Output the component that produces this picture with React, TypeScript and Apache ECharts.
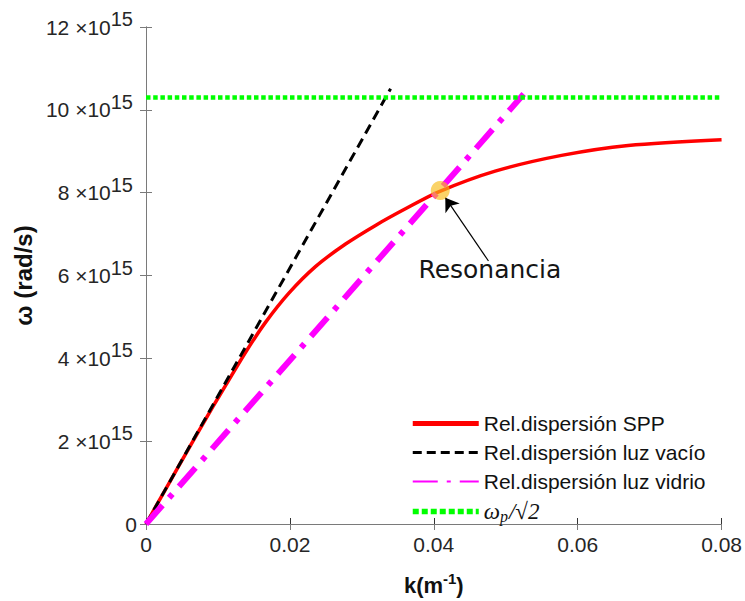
import React, { useEffect, useRef } from 'react';
import * as echarts from 'echarts';

// wave number k (m^-1) and angular frequency ω (in units of 1e15 rad/s)
const kSPP = [0, 0.00256, 0.00649, 0.00926, 0.01111, 0.01389, 0.01666, 0.01989, 0.02359, 0.02774, 0.0319, 0.03606, 0.04067, 0.04853, 0.05776, 0.06702, 0.08];
const wSPP = [0, 0.79, 1.99, 2.82, 3.36, 4.16, 4.88, 5.58, 6.22, 6.76, 7.21, 7.61, 8.02, 8.52, 8.9, 9.14, 9.28];
const kVacuum = [0, 0.034];
const wVacuum = [0, 10.51];
const kGlass = [0, 0.0525];
const wGlass = [0, 10.38];
const kPlasma = [0, 0.08];
const wPlasma = [10.3, 10.3];
const resonancePoint = [0.0409, 8.05];
const arrowTail = [0.0476, 6.35];
const arrowHead = [0.0416, 7.88];
const resonanceLabelAt = [0.0478, 6.14];
const resonanceText = 'Resonancia';

const xMin = 0, xMax = 0.08, xStep = 0.02;
const yMin = 0, yMax = 12, yStep = 2;
const yExponent = '15';

const nameSPP = 'Rel.dispersión SPP';
const nameVacuum = 'Rel.dispersión luz vacío';
const nameGlass = 'Rel.dispersión luz vidrio';
const namePlasma = 'ωp/√2';

const zip = (a: number[], b: number[]) => a.map((v, i) => [v, b[i]]);

const AXIS_GREY = '#7a7a7a';
const TXT = '#262626';
const SANS = '"Liberation Sans", Arial, sans-serif';

export default function App() {
  const ref = useRef<HTMLDivElement>(null);
  useEffect(() => {
    if (!ref.current) return;
    const chart = echarts.init(ref.current, undefined, { renderer: 'svg' });
    const secondaryX = {
      type: 'value', position: 'top', min: xMin, max: xMax, interval: xStep,
      axisLine: { show: true, lineStyle: { color: AXIS_GREY, width: 1 } },
      axisTick: { show: true, inside: true, length: 6, lineStyle: { color: AXIS_GREY } },
      axisLabel: { show: false }, splitLine: { show: false },
    };
    const secondaryY = {
      type: 'value', position: 'right', min: yMin, max: yMax, interval: yStep,
      axisLine: { show: true, lineStyle: { color: AXIS_GREY, width: 1 } },
      axisTick: { show: true, inside: true, length: 6, lineStyle: { color: AXIS_GREY } },
      axisLabel: { show: false }, splitLine: { show: false },
    };
    const option: any = {
      animation: false,
      backgroundColor: '#ffffff',
      grid: { left: 146, right: 21, top: 27, bottom: 72, containLabel: false },
      xAxis: [
        {
          type: 'value', min: xMin, max: xMax, interval: xStep,
          name: '{b|k(m}{s|-1}{b|)}',
          nameLocation: 'middle', nameGap: 47,
          nameTextStyle: {
            rich: {
              b: { fontFamily: SANS, fontSize: 22, fontWeight: 'bold', color: '#111' },
              s: { fontFamily: SANS, fontSize: 15, fontWeight: 'bold', color: '#111', padding: [0, 0, 13, 0] },
            },
          },
          axisLine: { show: true, lineStyle: { color: '#333', width: 1 } },
          axisTick: { show: true, inside: true, length: 6, lineStyle: { color: '#333' } },
          axisLabel: {
            margin: 10, fontFamily: SANS, fontSize: 21, color: TXT,
            formatter: (v: number) => (v === 0 ? '0' : v.toFixed(2)),
          },
          splitLine: { show: false },
        },
        secondaryX,
      ],
      yAxis: [
        {
          type: 'value', min: yMin, max: yMax, interval: yStep,
          name: 'ω (rad/s)', nameLocation: 'middle', nameGap: 106, nameRotate: 90,
          nameTextStyle: { fontFamily: SANS, fontSize: 24, fontWeight: 'bold', color: '#111' },
          axisLine: { show: true, lineStyle: { color: AXIS_GREY, width: 1 } },
          axisTick: { show: true, inside: true, length: 6, lineStyle: { color: AXIS_GREY } },
          axisLabel: {
            margin: 9, color: TXT,
            formatter: (v: number) => (v === 0 ? '{z|0}' : `{b|${v} ×10}{s|${yExponent}}`),
            rich: {
              z: { fontFamily: SANS, fontSize: 21, color: TXT },
              b: { fontFamily: SANS, fontSize: 21, color: TXT },
              s: { fontFamily: SANS, fontSize: 20, color: TXT, padding: [0, 4, 16, 0] },
            },
          },
          splitLine: { show: false },
        },
        secondaryY,
      ],
      legend: {
        orient: 'vertical', left: 410, top: 413, padding: 0,
        itemWidth: 66, itemHeight: 14, itemGap: 8,
        itemStyle: { opacity: 0, borderWidth: 0 },
        textStyle: {
          fontFamily: SANS, fontSize: 21, color: '#111', lineHeight: 20,
          rich: {
            w: { fontFamily: '"Liberation Serif", serif', fontStyle: 'italic', fontSize: 23, color: '#111' },
            p: { fontFamily: '"Liberation Serif", serif', fontStyle: 'italic', fontSize: 16, color: '#111', padding: [10, 1, 0, 0] },
            r: { fontFamily: '"Liberation Serif", serif', fontStyle: 'italic', fontSize: 23, color: '#111' },
          },
        },
        formatter: (name: string) => (name === namePlasma ? '{w|ω}{p|p}{r|/√2}' : name),
        data: [
          { name: nameSPP, lineStyle: { width: 5, type: 'solid' } },
          { name: nameVacuum, lineStyle: { width: 3, type: [9, 5] } },
          { name: nameGlass, lineStyle: { width: 2, type: [25, 9, 4, 9] } },
          { name: namePlasma, lineStyle: { width: 5.5, type: [6, 3] } },
        ],
      },
      series: [
        {
          name: nameSPP, type: 'line', data: zip(kSPP, wSPP), smooth: 0.3,
          symbol: 'none', lineStyle: { color: '#ff0000', width: 3.5 }, itemStyle: { color: '#ff0000' },
          z: 2,
        },
        {
          name: nameVacuum, type: 'line', data: zip(kVacuum, wVacuum),
          symbol: 'none', lineStyle: { color: '#000000', width: 3, type: [10, 6] }, itemStyle: { color: '#000000' },
          z: 3,
        },
        {
          name: nameGlass, type: 'line', data: zip(kGlass, wGlass),
          symbol: 'none', lineStyle: { color: '#ff00ff', width: 6, type: [25, 10, 5, 10] }, itemStyle: { color: '#ff00ff' },
          z: 4,
        },
        {
          name: namePlasma, type: 'line', data: zip(kPlasma, wPlasma),
          symbol: 'none', lineStyle: { color: '#00ff00', width: 4.5, type: [4.5, 2.7] }, itemStyle: { color: '#00ff00' },
          z: 5,
        },
        {
          name: 'resonance', type: 'scatter', data: [resonancePoint],
          symbol: 'circle', symbolSize: 19,
          itemStyle: { color: 'rgba(248,188,24,0.82)' },
          z: 6,
          markLine: {
            silent: true, animation: false,
            symbol: ['none', 'arrow'], symbolSize: 13,
            lineStyle: { color: '#000', width: 1.2, type: 'solid' },
            label: { show: false },
            data: [[{ coord: arrowTail }, { coord: arrowHead }]],
          },
          markPoint: {
            silent: true, animation: false,
            symbol: 'circle', symbolSize: 1,
            itemStyle: { color: 'transparent' },
            label: {
              show: true, position: 'inside', formatter: resonanceText,
              fontFamily: '"DejaVu Sans", sans-serif', fontSize: 25, color: '#151515',
            },
            data: [{ coord: resonanceLabelAt }],
          },
        },
      ],
    };
    chart.setOption(option);
    return () => chart.dispose();
  }, []);
  return (
    <div
      ref={ref}
      style={{ position: 'fixed', left: 0, top: 0, width: 745, height: 601, background: '#fff' }}
    />
  );
}
